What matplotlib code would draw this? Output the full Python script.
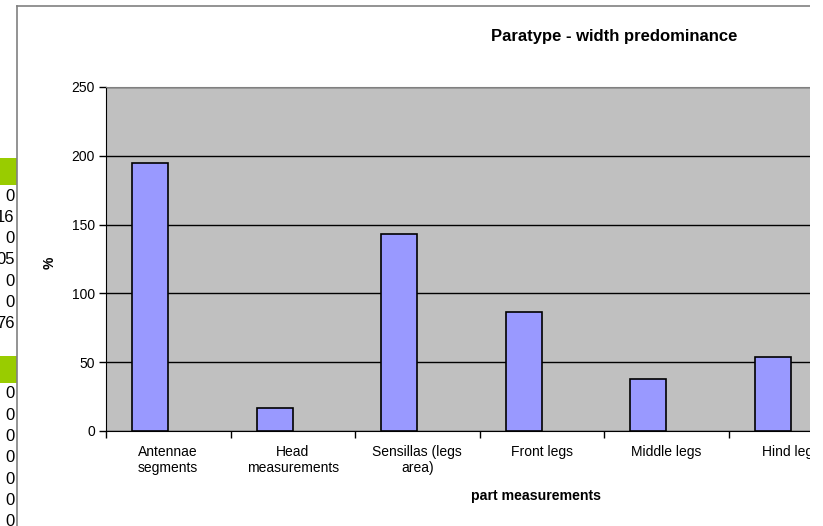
import numpy as np
import matplotlib
matplotlib.use('Agg')
import matplotlib.pyplot as plt

plt.rcParams['font.family'] = ['Liberation Sans', 'DejaVu Sans']

categories = ['Antennae\nsegments', 'Head\nmeasurements', 'Sensillas (legs\narea)',
              'Front legs', 'Middle legs', 'Hind legs']
values = [195, 17, 143, 86.5, 37.5, 54]

# spreadsheet cells peeking out at the left of the chart
cells_top = ['0', '16', '0', '05', '0', '0', '76']
cells_bottom = ['0', '0', '0', '0', '0', '0', '0']

n_cat = 7          # the plot area goes on past the right edge
gap = 0.2108       # Excel gap width, half on each side
bar_w = 0.289

fig = plt.figure(figsize=(8.23, 5.26), dpi=100)

# chart area border
fig.add_artist(plt.Line2D([17/823, 17/823], [0, 1 - 5.5/526], color='#808080', lw=1.2))
fig.add_artist(plt.Line2D([17/823, 1], [1 - 5.5/526, 1 - 5.5/526], color='#808080', lw=1.2))

# green header cells and values
for top in [158, 356]:
    fig.add_artist(plt.Rectangle((0, 1 - (top + 27)/526), 17/823, 27/526,
                                 color='#99CC00', lw=0))
for i, t in enumerate(cells_top):
    fig.text(14.5/823, 1 - (196 + i*21.3)/526, t, ha='right', va='center', fontsize=12)
for i, t in enumerate(cells_bottom):
    fig.text(14.5/823, 1 - (394 + i*21.3)/526, t, ha='right', va='center', fontsize=12)

ax = fig.add_axes([106/823, 95/526, n_cat*124.5/823, 344/526])
ax.set_facecolor('#C0C0C0')

x = np.arange(len(values)) + gap + bar_w/2
ax.bar(x, values, width=bar_w, color='#9999FF', edgecolor='black', linewidth=1.2, zorder=3)

ax.set_xlim(0, n_cat)
ax.set_ylim(0, 250)
ax.set_yticks(np.arange(0, 251, 50))
ax.yaxis.grid(True, color='black', lw=1)
ax.set_axisbelow(True)

ax.set_xticks(np.arange(0, n_cat + 1))
ax.set_xticklabels([])
ax.set_xticks(np.arange(len(categories)) + 0.5, minor=True)
ax.set_xticklabels(categories, minor=True, fontsize=10)
ax.tick_params(axis='x', which='minor', length=0, pad=10)
ax.tick_params(axis='x', which='major', length=5, width=1, direction='out')
ax.tick_params(axis='y', length=5, width=1, direction='out', labelsize=10, pad=3)

for s in ['top', 'right']:
    ax.spines[s].set_color('#808080')
for s in ['left', 'bottom']:
    ax.spines[s].set_color('black')

ax.set_ylabel('%', fontsize=10, fontweight='bold', va='center')
ax.yaxis.set_label_coords(-56/(n_cat*124.5), 0.49)
ax.set_xlabel('part measurements', fontsize=10.2, fontweight='bold', va='center')
ax.xaxis.set_label_coords((536 - 106)/(n_cat*124.5), -65/344)

fig.text(614/823, 1 - 36.5/526, 'Paratype - width predominance', ha='center', va='center',
         fontsize=12, fontweight='bold')

# the screenshot stops short of the right edge: blank strip
fig.add_artist(plt.Rectangle((810/823, 0), 13/823, 1, color='white', lw=0, zorder=10))

fig.savefig('out.png', dpi=100)
